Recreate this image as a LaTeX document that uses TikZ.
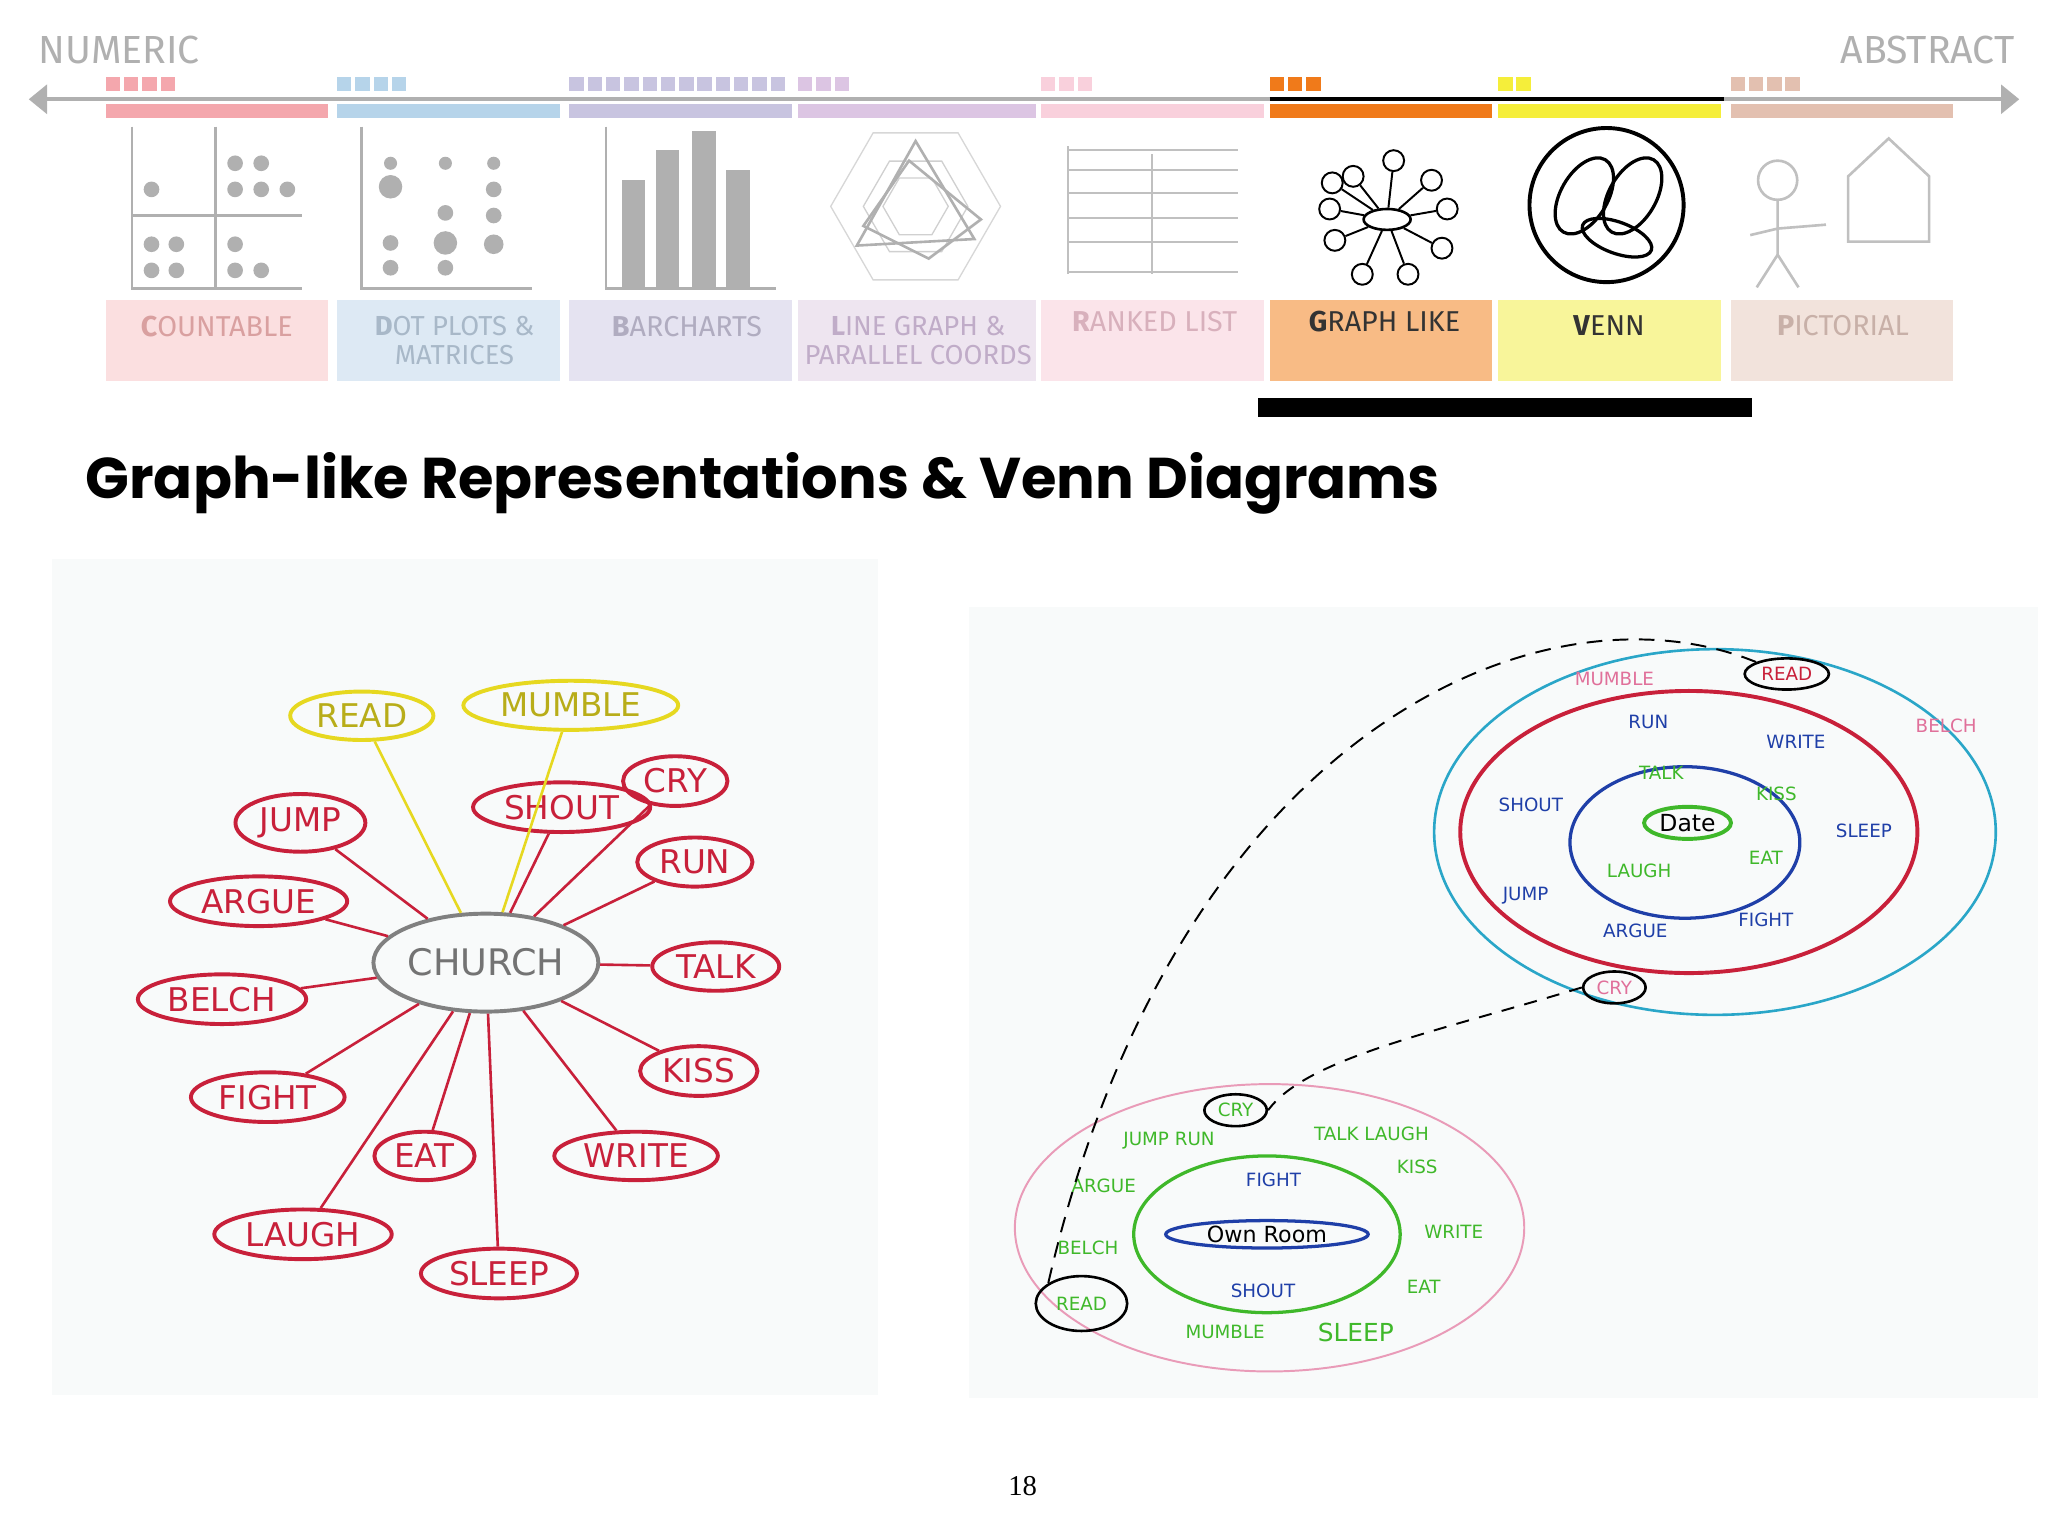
\documentclass[tikz,border=0pt]{standalone}
\usepackage{fontspec}
\setmainfont{Fira Sans}
\newfontfamily\titlef{Poppins}
\newfontfamily\handf{DejaVu Sans}
\newfontfamily\serf{Liberation Serif}
\usetikzlibrary{arrows.meta,shapes.geometric}
\definecolor{gr}{HTML}{B0B0B0}
\definecolor{redp}{HTML}{C8203A}
\definecolor{yelp}{HTML}{E6D820}
\definecolor{cyp}{HTML}{2AA6C8}
\definecolor{bluep}{HTML}{1F3FA8}
\definecolor{grnp}{HTML}{3FB82A}
\definecolor{pinkp}{HTML}{E0709A}
\definecolor{lgbar}{HTML}{DCC5E3}
\definecolor{lgbox}{HTML}{EEE5F0}
\definecolor{t1}{HTML}{D9A0A0}
\definecolor{t2}{HTML}{A8B8C8}
\definecolor{t3}{HTML}{B0ACC0}
\definecolor{t4}{HTML}{C0ACC8}
\definecolor{t5}{HTML}{D8B0BC}
\definecolor{t6}{HTML}{333333}
\definecolor{t8}{HTML}{C8B0A8}
\definecolor{photo}{HTML}{F8FAFA}
\tikzset{
 lab/.style={font=\fontsize{22}{24}\selectfont, align=center},
 mm/.style={draw=redp, line width=3pt, ellipse, inner sep=4pt, text=redp, font=\handf\fontsize{25}{26}\selectfont},
 mmy/.style={mm, draw=yelp, text=yelp!80!black},
 vt/.style={font=\handf\fontsize{14}{15}\selectfont},
 ic/.style={draw=gr, line width=2pt},
 dot/.style={fill=gr, circle, inner sep=0pt, minimum size=13pt},
}
\begin{document}
\begin{tikzpicture}[x=1pt,y=-1pt]
\useasboundingbox[fill=white] (0,0) rectangle (1568,1176);
% header
\node[text=gr, font=\fontsize{30}{32}\selectfont, anchor=west] (num) at (26,38) {NUMERIC};
\node[text=gr, font=\fontsize{30}{32}\selectfont, anchor=east] (abs) at (1546,38) {ABSTRACT};
\coordinate (al) at (22,76); \coordinate (ar) at (1546,76);
\draw[gr, line width=3pt, {Triangle[length=14pt,width=22pt]}-{Triangle[length=14pt,width=22pt]}] (al) -- (ar);
\coordinate (bl) at (972,76); \coordinate (br) at (1320,76);
\draw[black, line width=3pt] (bl) -- (br);
% columns
\foreach \x/\w/\cbar/\cbx/\n in {
 81/170/F4A7AD/FBDFE0/4,
 258/171/B6D4EA/DDE9F4/4,
 436/170/C8C4E0/E5E3F1/12,
 797/171/F9D0DC/FBE4EA/3,
 972/170/F07A1A/F8BB85/3,
 1147/171/F5EE3A/F8F59A/2,
 1325/170/E3C0B0/F2E3DC/4}{
 \definecolor{cb}{HTML}{\cbar}\definecolor{cx}{HTML}{\cbx}
 \fill[cb] (\x,80) rectangle ++(\w,10);
 \fill[cx] (\x,230) rectangle ++(\w,62);
 \foreach \k in {1,...,\n}{\fill[cb] ({\x+(\k-1)*14},59) rectangle ++(11,11);}
}
\fill[lgbar] (611,80) rectangle ++(182,10);
\fill[lgbox] (611,230) rectangle ++(182,62);
\foreach \k in {1,...,3}{\fill[lgbar] ({611+(\k-1)*14},59) rectangle ++(11,11);}
\node[lab, text=t1] (l1) at (166,250) {\textbf{C}OUNTABLE};
\node[lab, text=t2, font=\fontsize{21}{22}\selectfont] (l2) at (348,261) {\textbf{D}OT PLOTS \&\\MATRICES};
\node[lab, text=t3] (l3) at (526,250) {\textbf{B}ARCHARTS};
\node[lab, text=t4, font=\fontsize{21}{22}\selectfont] (l4) at (703,261) {\textbf{L}INE GRAPH \&\\PARALLEL COORDS};
\node[lab, text=t5] (l5) at (884,246) {\textbf{R}ANKED LIST};
\node[lab, text=t6] (l6) at (1060,246) {\textbf{G}RAPH LIKE};
\node[lab, text=t6] (l7) at (1232,249) {\textbf{V}ENN};
\node[lab, text=t8] (l8) at (1411,249) {\textbf{P}ICTORIAL};
\fill[black] (963,305) rectangle (1341,319);
% icons
\draw[ic] (101,97) -- (101,221) -- (231,221); \draw[ic] (165,97)--(165,221); \draw[ic] (101,165)--(231,165);
\foreach \px/\py in {116/145,180/125,200/125,180/145,200/145,220/145,116/187,135/187,116/207,135/207,180/187,180/207,200/207} \node[dot,minimum size=12pt] at (\px,\py) {};
\draw[ic] (277,97) -- (277,221) -- (407,221);
\foreach \px/\py/\s in {299/125/10,299/143/18,341/125/10,378/125/10,341/163/12,378/145/12,378/165/12,299/186/12,341/186/18,378/187/15,299/205/12,341/205/12}\node[dot,minimum size=\s pt] at (\px,\py) {};
\draw[ic] (464,97) -- (464,221) -- (594,221);
\fill[gr] (476,138) rectangle (494,221); \fill[gr] (502,115) rectangle (520,221); \fill[gr] (530,100) rectangle (548,221); \fill[gr] (556,130) rectangle (574,221);
\begin{scope}[shift={(701,158)}]
\node[draw=gr!50,regular polygon,regular polygon sides=6,minimum size=130pt,line width=1pt] (hx) at (0,0) {};
\node[draw=gr!60,regular polygon,regular polygon sides=6,minimum size=80pt,line width=1pt] at (0,0) {};
\node[draw=gr!60,regular polygon,regular polygon sides=6,minimum size=50pt,line width=1pt] at (0,0) {};
\draw[gr,line width=2pt] (0,-50) -- (45,25) -- (-45,30) -- cycle;
\draw[gr,line width=2pt] (-5,-35) -- (50,10) -- (10,40) -- (-40,15) -- cycle;
\end{scope}
\foreach \y in {115,130,148,167,185,208} \draw[gr!80,line width=1.5pt] (818,\y) -- (948,\y);
\draw[gr!80,line width=1.5pt] (818,112)--(818,210); \draw[gr!80,line width=1.5pt] (882,118)--(882,210);
% graph icon
\node[draw,ellipse,minimum width=36pt,minimum height=16pt,line width=2pt] (gc) at (1062,168) {};
\foreach \px/\py [count=\j] in {1020/140,1018/160,1022/184,1043/210,1078/210,1104/190,1108/160,1096/138,1067/123,1036/135}{
 \node[draw,circle,line width=1.5pt,minimum size=16pt,inner sep=0pt] (g\j) at (\px,\py) {};
 \draw[line width=1.5pt] (gc) -- (g\j);}
\node[draw,circle,line width=3pt,minimum size=118pt] (vo) at (1230,157) {};
\draw[line width=2.5pt,rotate around={60:(1213,150)}] (1213,150) ellipse (32pt and 18pt);
\draw[line width=2.5pt,rotate around={60:(1250,150)}] (1250,150) ellipse (32pt and 18pt);
\draw[line width=2.5pt,rotate around={-20:(1238,182)}] (1238,182) ellipse (28pt and 12pt);
\draw[gr!80,line width=2pt] (1361,138) circle (15pt); \draw[gr!80,line width=2pt] (1361,153)--(1361,195) (1345,220)--(1361,195)--(1377,220) (1340,180)--(1361,175)--(1398,172);
\draw[gr!80,line width=2pt] (1415,185)--(1415,135)--(1446,106)--(1477,135)--(1477,185)--cycle;
% title
\node[anchor=west,font=\titlef\bfseries\fontsize{44}{46}\selectfont] (title) at (62,370) {Graph-like Representations \& Venn Diagrams};
% left photo
\fill[photo] (40,428) rectangle (672,1068);
\node[draw=gray, line width=3pt, ellipse, text=gray!90!black, font=\handf\fontsize{28}{30}\selectfont, minimum width=170pt, minimum height=75pt, inner sep=1pt] (ch) at (372,737) {CHURCH};
\foreach \n/\px/\py/\t in {jump/230/630/JUMP,argue/198/690/ARGUE,belch/170/765/BELCH,fight/205/840/FIGHT,laugh/232/945/LAUGH,eat/325/885/EAT,sleep/382/975/SLEEP,write/487/885/WRITE,kiss/535/820/KISS,talk/548/740/TALK,run/532/660/RUN,cry/517/598/CRY,shout/430/618/SHOUT}{
 \node[mm] (\n) at (\px,\py) {\t};
 \draw[redp,line width=2pt] (ch) -- (\n);}
\node[mmy] (read) at (277,548) {READ};
\node[mmy] (mumble) at (437,540) {MUMBLE};
\draw[yelp,line width=2pt] (ch) -- (read); \draw[yelp,line width=2pt] (ch) -- (mumble);
% right photo
\fill[photo] (742,465) rectangle (1560,1070);
\draw[cyp,line width=2pt] (1313,637) ellipse (215pt and 140pt);
\draw[redp,line width=3pt] (1293,637) ellipse (175pt and 108pt);
\draw[bluep,line width=2.5pt] (1290,645) ellipse (88pt and 58pt);
\node[draw=grnp,line width=3pt,ellipse,font=\handf\fontsize{18}{20}\selectfont,inner sep=2pt] (date) at (1292,630) {Date};
\node[vt,text=pinkp] (u1) at (1236,520) {MUMBLE};
\node[draw,ellipse,line width=2pt,vt,text=redp] (uread) at (1368,516) {READ};
\node[vt,text=pinkp] (u2) at (1490,556) {BELCH};
\node[vt,text=bluep] (u3) at (1262,553) {RUN};
\node[vt,text=bluep] (u4) at (1375,568) {WRITE};
\node[vt,text=grnp] (u5) at (1272,592) {TALK};
\node[vt,text=grnp] (u6) at (1360,608) {KISS};
\node[vt,text=bluep] (u7) at (1172,616) {SHOUT};
\node[vt,text=bluep] (u8) at (1427,636) {SLEEP};
\node[vt,text=grnp] (u9) at (1255,667) {LAUGH};
\node[vt,text=grnp] (u10) at (1352,657) {EAT};
\node[vt,text=bluep] (u11) at (1168,686) {JUMP};
\node[vt,text=bluep] (u12) at (1252,713) {ARGUE};
\node[vt,text=bluep] (u13) at (1352,704) {FIGHT};
\node[draw,ellipse,line width=2pt,vt,text=pinkp] (ucry) at (1236,756) {CRY};
\draw[pinkp!70,line width=1.5pt] (972,940) ellipse (195pt and 110pt);
\draw[grnp,line width=2.5pt] (970,945) ellipse (102pt and 60pt);
\node[draw=bluep,line width=2.5pt,ellipse,font=\handf\fontsize{17}{18}\selectfont,minimum width=155pt,inner sep=1pt] (own) at (970,945) {Own Room};
\node[draw,ellipse,line width=2pt,vt,text=grnp] (lcry) at (946,850) {CRY};
\node[vt,text=grnp] (d1) at (895,873) {JUMP RUN};
\node[vt,text=grnp] (d2) at (1050,868) {TALK LAUGH};
\node[vt,text=grnp] (d3) at (1085,893) {KISS};
\node[vt,text=grnp] (d4) at (845,908) {ARGUE};
\node[vt,text=bluep] (d5) at (975,903) {FIGHT};
\node[vt,text=grnp] (d6) at (1113,943) {WRITE};
\node[vt,text=grnp] (d7) at (833,955) {BELCH};
\node[vt,text=bluep] (d8) at (967,988) {SHOUT};
\node[vt,text=grnp] (d9) at (1090,985) {EAT};
\node[draw,ellipse,line width=2pt,vt,text=grnp,minimum width=70pt,minimum height=42pt] (lread) at (828,998) {READ};
\node[vt,text=grnp] (d10) at (938,1020) {MUMBLE};
\node[vt,text=grnp,font=\handf\fontsize{19}{20}\selectfont] (d11) at (1038,1020) {SLEEP};
\draw[line width=1.5pt,dash pattern=on 12pt off 8pt] (uread.north west) .. controls (1180,440) and (900,560) .. (lread.north west);
\draw[line width=1.5pt,dash pattern=on 10pt off 8pt] (ucry.west) .. controls (1100,790) and (1000,810) .. (lcry.east);
\node[font=\serf\fontsize{22}{24}\selectfont] (pg) at (783,1138) {18};
\end{tikzpicture}
\end{document}
